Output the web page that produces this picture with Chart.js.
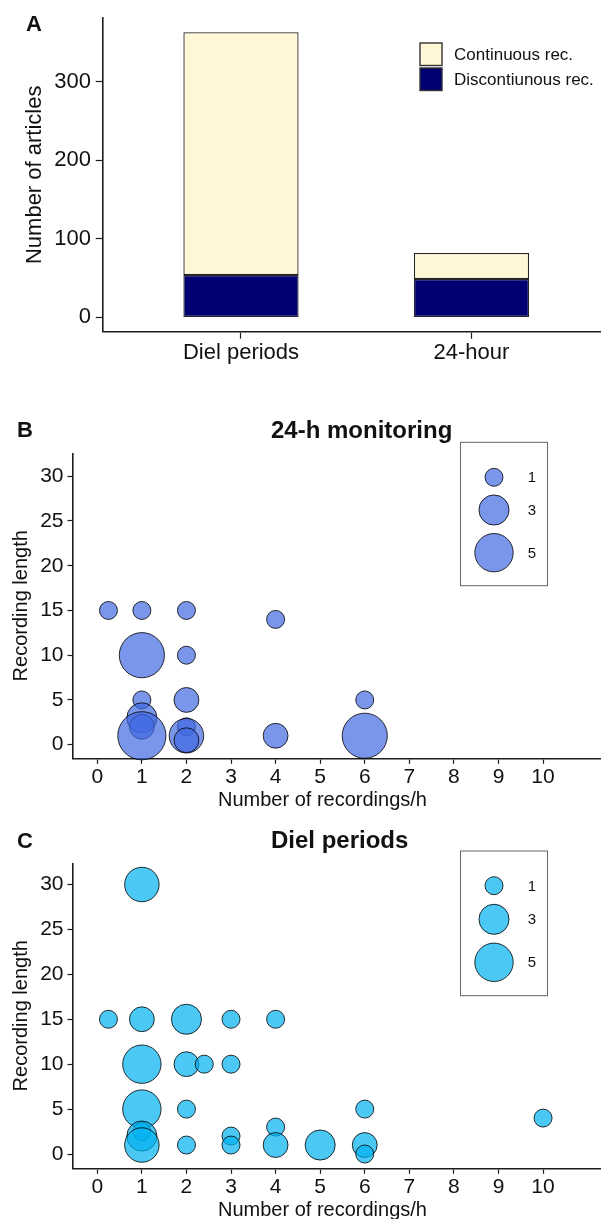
<!DOCTYPE html>
<html><head><meta charset="utf-8">
<script src="https://cdn.jsdelivr.net/npm/chart.js@4.4.1/dist/chart.umd.min.js"></script>
<style>
html,body{margin:0;padding:0;background:#fff;}
#wrap{position:relative;width:601px;height:1219px;overflow:hidden;background:#fff;}
canvas{position:absolute;left:0;}
</style></head><body>
<div id="wrap">
<canvas id="cA" width="601" height="390" style="top:0px"></canvas>
<canvas id="cB" width="601" height="430" style="top:390px"></canvas>
<canvas id="cC" width="601" height="399" style="top:820px"></canvas>
</div>
<script>
// ---------- DATA ----------
const barCategories = ['Diel periods', '24-hour'];
const continuousRec = [309, 33];
const discontinuousRec = [54, 49];
const barTicksY = [0, 100, 200, 300];

// Panel B: 24-h monitoring (x = recordings/h, y = recording length, n = number of articles)
const bX = [0.25, 1, 2, 4, 1, 2, 1, 2, 1, 1, 1, 2, 2, 2, 4, 6, 6];
const bY = [15, 15, 15, 14, 10, 10, 5, 5, 3, 2, 1, 2, 1, 0.5, 1, 5, 1];
const bN = [1, 1, 1, 1, 7, 1, 1, 2, 3, 2, 8, 1, 4, 2, 2, 1, 7];

// Panel C: Diel periods
const cX = [1, 0.25, 1, 2, 3, 4, 1, 2, 2.4, 3, 1, 2, 1, 1, 1, 2, 3, 3, 4, 4, 5, 6, 6, 6, 10];
const cY = [30, 15, 15, 15, 15, 15, 10, 10, 10, 10, 5, 5, 2.5, 2, 1, 1, 2, 1, 3, 1, 1, 5, 1, 0, 4];
const cN = [4, 1, 2, 3, 1, 1, 5, 2, 1, 1, 5, 1, 1, 3, 4, 1, 1, 1, 1, 2, 3, 1, 2, 1, 1];

const sizeLegendValues = [1, 3, 5];
const scatterTicksX = [0, 1, 2, 3, 4, 5, 6, 7, 8, 9, 10];
const scatterTicksY = [0, 5, 10, 15, 20, 25, 30];

// ---------- STYLE ----------
const FONT = "'Liberation Sans', Arial, Helvetica, sans-serif";
Chart.defaults.font.family = FONT;
Chart.defaults.color = '#111';
Chart.defaults.animation = false;
const AX = '#1c1c1c';
const sizeToRadius = n => 0.75 + 8.25 * Math.sqrt(n);

function textPlugin(items) {
  return {
    id: 'txt' + Math.random().toString(36).slice(2),
    afterDraw(chart) {
      const ctx = chart.ctx;
      ctx.save();
      items.forEach(t => {
        ctx.font = t.font;
        ctx.fillStyle = t.color || '#111';
        ctx.textAlign = t.align || 'left';
        ctx.textBaseline = t.baseline || 'alphabetic';
        ctx.fillText(t.text, t.x, t.y);
      });
      ctx.restore();
    }
  };
}

// ---------- PANEL A ----------
const legendA = {
  id: 'legendA',
  afterDraw(chart) {
    const ctx = chart.ctx;
    const order = [1, 0];
    ctx.save();
    order.forEach((di, k) => {
      const ds = chart.data.datasets[di];
      const y0 = 43 + k * 25;
      ctx.fillStyle = ds.backgroundColor;
      ctx.fillRect(420, y0, 22, 22.5);
      ctx.strokeStyle = '#333';
      ctx.lineWidth = 1.4;
      ctx.strokeRect(420, y0, 22, 22.5);
      ctx.fillStyle = '#111';
      ctx.font = '17px ' + FONT;
      ctx.textAlign = 'left';
      ctx.textBaseline = 'middle';
      ctx.fillText(ds.label, 454, y0 + 12);
    });
    ctx.restore();
  }
};

new Chart(document.getElementById('cA'), {
  type: 'bar',
  data: {
    datasets: [
      { label: 'Discontiunous rec.', data: barCategories.map((c, i) => ({ x: i, y: discontinuousRec[i] })),
        backgroundColor: '#000072', borderColor: '#262626', borderWidth: 1.3, borderSkipped: false,
        categoryPercentage: 1, barPercentage: 0.5 },
      { label: 'Continuous rec.', data: barCategories.map((c, i) => ({ x: i, y: continuousRec[i] })),
        backgroundColor: '#FFF7D5', borderColor: '#262626', borderWidth: 1.3, borderSkipped: false,
        categoryPercentage: 1, barPercentage: 0.5 }
    ]
  },
  options: {
    responsive: false, animation: false,
    layout: { padding: { top: 14, left: 0, right: 0, bottom: 0 }, autoPadding: false },
    plugins: { legend: { display: false }, tooltip: { enabled: false } },
    scales: {
      x: {
        type: 'linear', stacked: true, offset: false, min: -0.6, max: 1.562,
        afterFit(s) { s.height = 58.3; },
        afterBuildTicks(s) { s.ticks = barCategories.map((c, i) => ({ value: i })); },
        ticks: { callback: v => barCategories[v], font: { size: 22 }, padding: 1, autoSkip: false, maxRotation: 0, color: '#111' },
        grid: { offset: false, drawOnChartArea: false, drawTicks: true, tickLength: 7, tickColor: AX, tickWidth: 1.2 },
        border: { display: true, color: AX, width: 1.6 }
      },
      y: {
        stacked: true, min: -18.15, max: 381.15,
        afterFit(s) { s.width = 102.7; },
        afterBuildTicks(s) { s.ticks = barTicksY.map(v => ({ value: v })); },
        ticks: { font: { size: 22 }, padding: 4.7, color: '#111' },
        title: { display: true, text: 'Number of articles', font: { size: 22 }, padding: { top: 21.3, bottom: 0 }, color: '#111' },
        grid: { offset: false, drawOnChartArea: false, drawTicks: true, tickLength: 7, tickColor: AX, tickWidth: 1.2 },
        border: { display: true, color: AX, width: 1.6 }
      }
    }
  },
  plugins: [legendA, textPlugin([{ text: 'A', x: 26, y: 30.7, font: 'bold 22px ' + FONT }])]
});

// ---------- PANELS B & C ----------
function sizeLegend(box, ys, fill) {
  return {
    id: 'sizeLegend' + Math.random().toString(36).slice(2),
    afterDraw(chart) {
      const ctx = chart.ctx;
      ctx.save();
      ctx.strokeStyle = '#666';
      ctx.lineWidth = 1;
      ctx.strokeRect(box[0], box[1], box[2], box[3]);
      sizeLegendValues.forEach((v, i) => {
        ctx.beginPath();
        ctx.arc(494, ys[i], sizeToRadius(v), 0, Math.PI * 2);
        ctx.fillStyle = fill;
        ctx.fill();
        ctx.strokeStyle = 'rgba(0,0,0,0.8)';
        ctx.lineWidth = 1;
        ctx.stroke();
        ctx.fillStyle = '#111';
        ctx.font = '15px ' + FONT;
        ctx.textAlign = 'center';
        ctx.textBaseline = 'middle';
        ctx.fillText(String(v), 532, ys[i] + 1);
      });
      ctx.restore();
    }
  };
}

function bubbleChart(id, xs, ys, ns, fill, yMin, yMax, topPad, xH, extraPlugins) {
  return new Chart(document.getElementById(id), {
    type: 'bubble',
    data: {
      datasets: [{
        data: xs.map((x, i) => ({ x: x, y: ys[i], n: ns[i] })),
        backgroundColor: fill,
        borderColor: 'rgba(0,0,0,0.8)',
        borderWidth: 1,
        radius: ctx => sizeToRadius(ctx.raw ? ctx.raw.n : 1),
        hoverRadius: 0,
        clip: false
      }]
    },
    options: {
      responsive: false, animation: false,
      layout: { padding: { top: topPad, left: 0, right: 0, bottom: 0 }, autoPadding: false },
      plugins: { legend: { display: false }, tooltip: { enabled: false } },
      scales: {
        x: {
          type: 'linear', min: -0.545, max: 11.30,
          afterFit(s) { s.height = xH; },
          afterBuildTicks(s) { s.ticks = scatterTicksX.map(v => ({ value: v })); },
          ticks: { font: { size: 21 }, padding: 1, autoSkip: false, maxRotation: 0, color: '#111' },
          grid: { drawOnChartArea: false, drawTicks: true, tickLength: 5.5, tickColor: AX, tickWidth: 1.2 },
          border: { display: true, color: AX, width: 1.6 }
        },
        y: {
          min: yMin, max: yMax,
          afterFit(s) { s.width = 73; },
          afterBuildTicks(s) { s.ticks = scatterTicksY.map(v => ({ value: v })); },
          ticks: { font: { size: 21 }, padding: 4, color: '#111' },
          title: { display: true, text: 'Recording length', font: { size: 20 }, padding: { top: 9, bottom: 0 }, color: '#111' },
          grid: { drawOnChartArea: false, drawTicks: true, tickLength: 5.5, tickColor: AX, tickWidth: 1.2 },
          border: { display: true, color: AX, width: 1.6 }
        }
      }
    },
    plugins: extraPlugins
  });
}

const fillB = 'rgba(65,105,225,0.7)';
const fillC = 'rgba(0,176,240,0.7)';

bubbleChart('cB', bX, bY, bN, fillB, -1.52, 32.56, 63.3, 61.7, [
  sizeLegend([460.5, 52.3, 87, 143.4], [87.3, 120, 162.7], fillB),
  textPlugin([
    { text: 'B', x: 17, y: 47, font: 'bold 22px ' + FONT },
    { text: '24-h monitoring', x: 271, y: 48, font: 'bold 24px ' + FONT },
    { text: 'Number of recordings/h', x: 322.5, y: 416.3, align: 'center', font: '20px ' + FONT }
  ])
]);

bubbleChart('cC', cX, cY, cN, fillC, -1.59, 32.36, 43.3, 50.7, [
  sizeLegend([460.5, 31, 87, 144.7], [65.7, 99.3, 142.3], fillC),
  textPlugin([
    { text: 'C', x: 17, y: 28, font: 'bold 22px ' + FONT },
    { text: 'Diel periods', x: 271, y: 28.3, font: 'bold 24px ' + FONT },
    { text: 'Number of recordings/h', x: 322.5, y: 396, align: 'center', font: '20px ' + FONT }
  ])
]);
</script>
</body></html>
